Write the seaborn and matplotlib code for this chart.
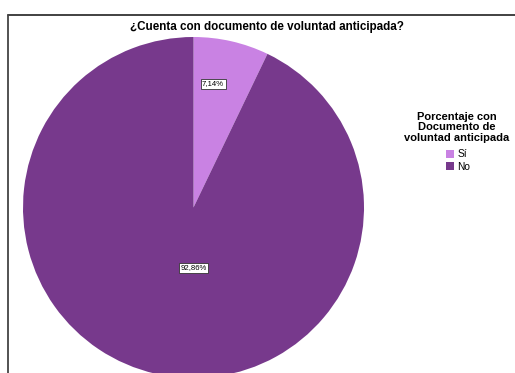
import matplotlib
matplotlib.use("Agg")
import matplotlib.pyplot as plt
from matplotlib.lines import Line2D
import seaborn as sns

# Data
categories = ["Sí", "No"]
percentages = [7.14, 92.86]
colors = ["#C982E3", "#77398C"]
title = "¿Cuenta con documento de voluntad anticipada?"
legend_title = "Porcentaje con\nDocumento de\nvoluntad anticipada"

sns.set_theme(style="white")
plt.rcParams["font.family"] = ["Liberation Sans", "DejaVu Sans"]
plt.rcParams["text.color"] = "black"

W, H = 515, 373
fig = plt.figure(figsize=(W / 100, H / 100), dpi=100)

# Pie axes: centre (193.5, 207.5) px from top-left, radius 170.5 px
cx, cy, r = 193.5, 207.5, 170.5
ax = fig.add_axes([(cx - r) / W, (H - cy - r) / H, 2 * r / W, 2 * r / H])
wedges, texts, autotexts = ax.pie(
    percentages,
    colors=colors,
    startangle=90,
    counterclock=False,
    radius=1,
    autopct=lambda p: f"{p:.2f}%".replace(".", ","),
    pctdistance=0.72,
    wedgeprops=dict(linewidth=0),
    textprops=dict(fontsize=5.6, color="black"),
)
ax.set_xlim(-1, 1)
ax.set_ylim(-1, 1)
ax.set_aspect("equal")
ax.axis("off")

label_pos = [(0.115, 0.725), (0.0, -0.355)]
for t, (x, y) in zip(autotexts, label_pos):
    t.set_position((x, y))
    t.set_ha("center")
    t.set_va("center")
    t.set_bbox(dict(boxstyle="square,pad=0.2", facecolor="white",
                    edgecolor="#333333", linewidth=0.6))

# Frame lines along the top and left
fig.add_artist(Line2D([8 / W, 1], [1 - 15 / H, 1 - 15 / H],
                      color="#333333", linewidth=1.3, transform=fig.transFigure))
fig.add_artist(Line2D([8 / W, 8 / W], [0, 1 - 15 / H],
                      color="#444444", linewidth=1.3, transform=fig.transFigure))

fig.text(267 / W, 1 - 27 / H, title, ha="center", va="center",
         fontsize=8.4, fontweight="bold", color="black")

# Legend heading and entries
fig.text(457 / W, 1 - 111.5 / H, legend_title, ha="center", va="top",
         multialignment="center", fontsize=8.0, fontweight="bold",
         linespacing=1.08, color="black")

leg = fig.legend(
    wedges, categories,
    loc="upper center",
    bbox_to_anchor=(458 / W, 1 - 149.5 / H),
    frameon=False,
    fontsize=7.3,
    handlelength=0.85, handleheight=0.85, handletextpad=0.3,
    labelspacing=0.2, borderpad=0, borderaxespad=0,
)
for t in leg.get_texts():
    t.set_color("black")

fig.savefig("out.png", dpi=100)
